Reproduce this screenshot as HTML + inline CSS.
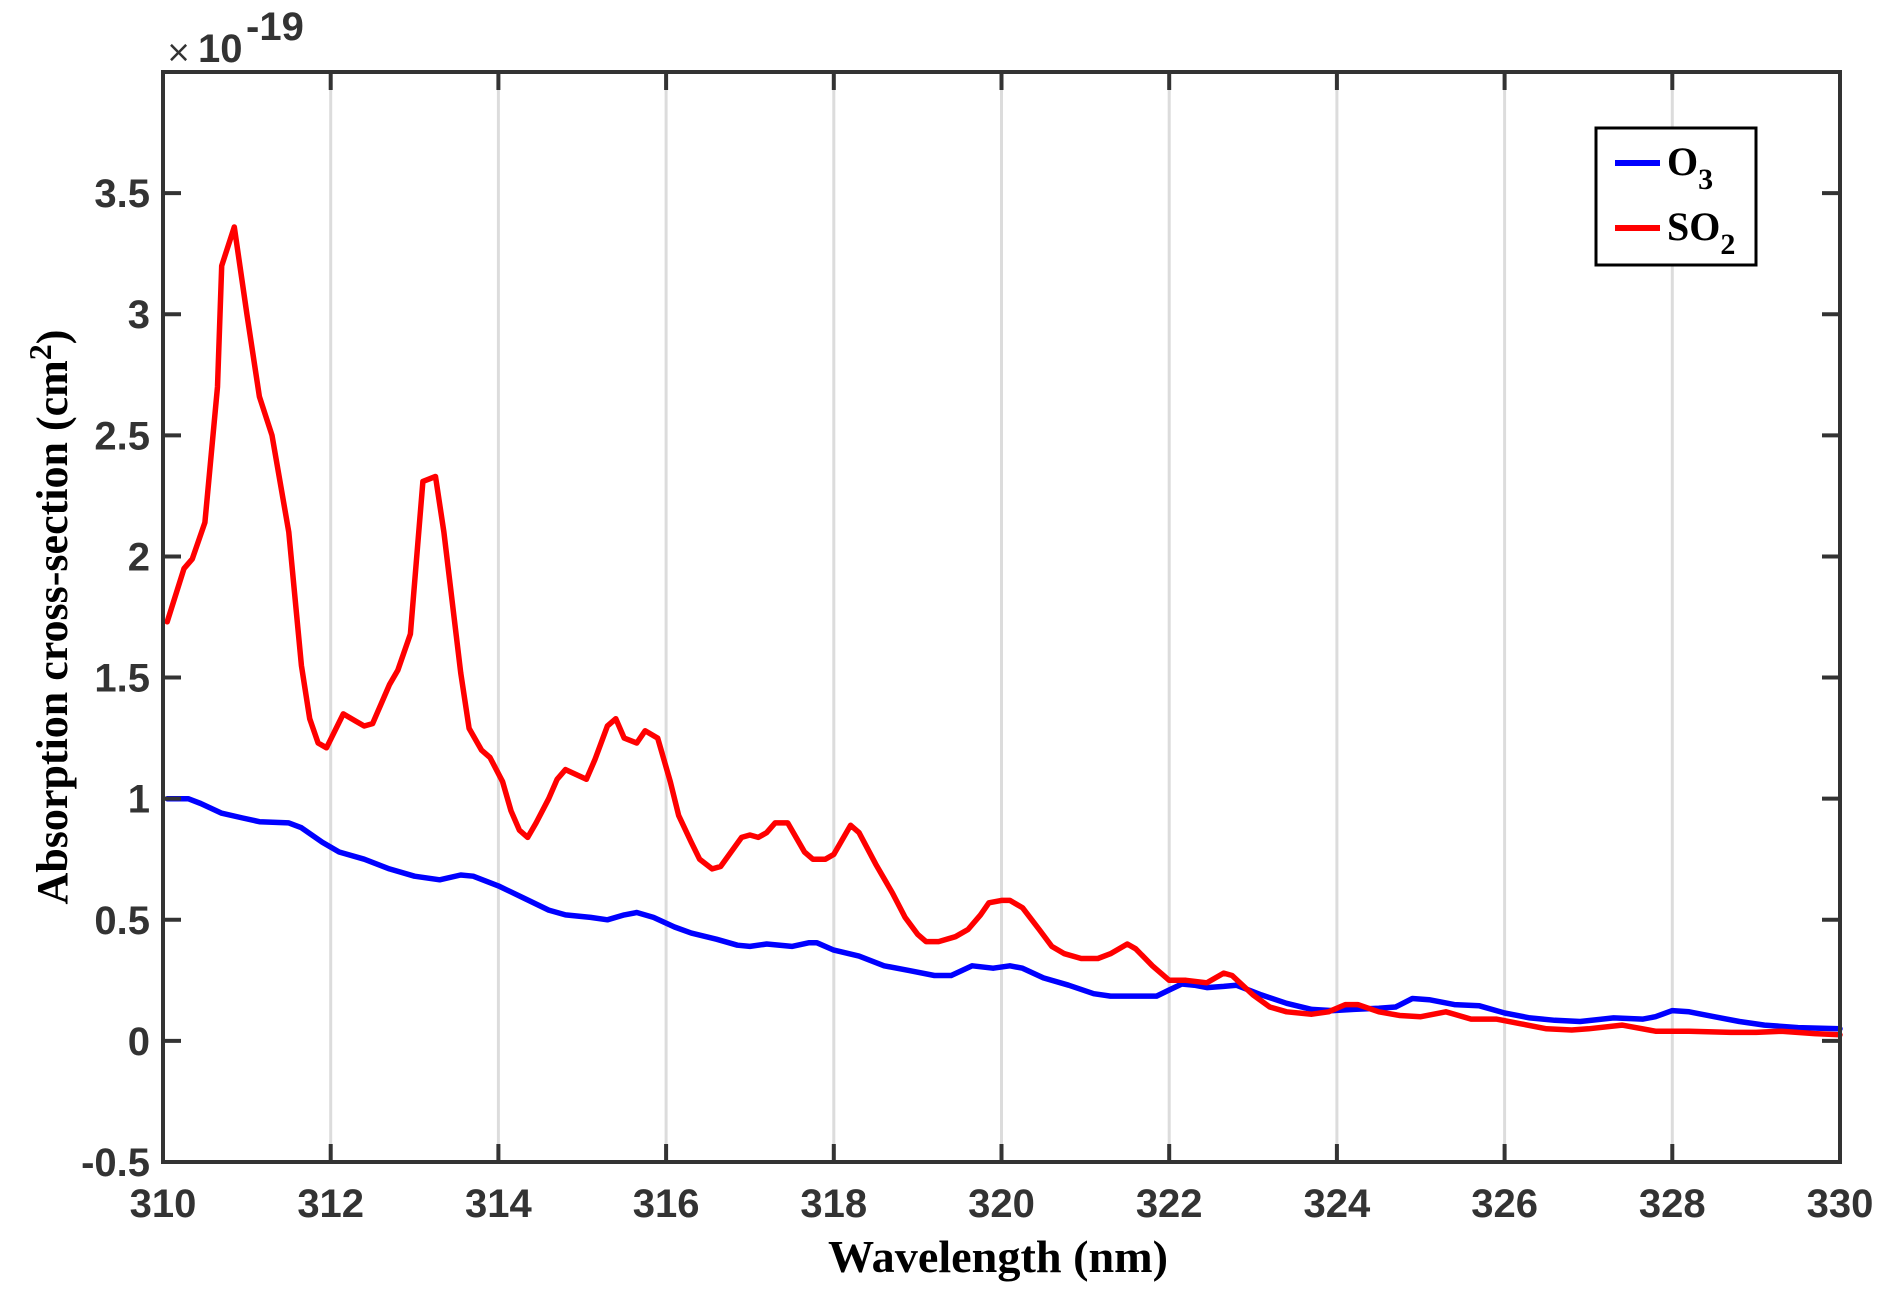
<!DOCTYPE html>
<html><head><meta charset="utf-8"><style>
html,body{margin:0;padding:0;background:#fff;}
svg{display:block;}
.tick{font-family:"Liberation Sans",Arial,sans-serif;font-weight:bold;font-size:40px;fill:#333;}
.lab{font-family:"Liberation Serif","Times New Roman",serif;font-weight:bold;fill:#000;}
</style></head><body>
<svg id="chart" width="1892" height="1300" viewBox="0 0 1892 1300" xmlns="http://www.w3.org/2000/svg">
<rect width="1892" height="1300" fill="#fff"/>
<g id="grid"></g>
<g id="series"></g>
<g id="axes"></g>
<text class="lab" x="998" y="1272" font-size="46" text-anchor="middle" textLength="340" lengthAdjust="spacingAndGlyphs">Wavelength (nm)</text>
<text class="lab" transform="translate(67,617) rotate(-90)" font-size="44" text-anchor="middle">Absorption cross-section (cm<tspan dy="-16" font-size="32">2</tspan><tspan dy="16">)</tspan></text>
<g>
<text x="166" y="62" font-family="'DejaVu Sans',sans-serif" font-size="30" fill="#333">×</text>
<text class="tick" x="198" y="62">10</text>
<text class="tick" x="246" y="40" font-size="28">-19</text>
</g>
<g>
<rect x="1596" y="128" width="160" height="137" fill="#fff" stroke="#000" stroke-width="3"/>
<line x1="1615" y1="163" x2="1660" y2="163" stroke="#0000ff" stroke-width="6"/>
<text class="lab" x="1667" y="175" font-size="40">O<tspan dy="14" font-size="30">3</tspan></text>
<line x1="1615" y1="228" x2="1660" y2="228" stroke="#ff0000" stroke-width="6"/>
<text class="lab" x="1667" y="240" font-size="40">SO<tspan dy="14" font-size="30">2</tspan></text>
</g>
</svg>
<script>
const xTicks = [310,312,314,316,318,320,322,324,326,328,330];
const yTicks = [-0.5,0,0.5,1,1.5,2,2.5,3,3.5];
const yTickLabels = ["-0.5","0","0.5","1","1.5","2","2.5","3","3.5"];
const o3X = [310.05,310.3,310.45,310.7,310.95,311.15,311.5,311.65,311.9,312.1,312.4,312.7,313,313.3,313.55,313.7,314,314.3,314.6,314.8,315.1,315.3,315.5,315.65,315.85,316.1,316.3,316.6,316.85,317,317.2,317.5,317.7,317.8,318,318.3,318.6,318.9,319.2,319.4,319.65,319.9,320.1,320.25,320.5,320.8,321.1,321.3,321.6,321.85,322,322.15,322.3,322.45,322.65,322.8,323.1,323.4,323.7,323.95,324.2,324.5,324.7,324.9,325.1,325.4,325.7,326,326.3,326.6,326.9,327.3,327.65,327.8,328,328.2,328.5,328.8,329.1,329.5,330];
const o3Y = [1.0,1.0,0.98,0.94,0.92,0.905,0.9,0.88,0.82,0.78,0.75,0.71,0.68,0.665,0.685,0.68,0.64,0.59,0.54,0.52,0.51,0.5,0.52,0.53,0.51,0.47,0.445,0.42,0.395,0.39,0.40,0.39,0.405,0.405,0.375,0.35,0.31,0.29,0.27,0.27,0.31,0.30,0.31,0.30,0.26,0.23,0.195,0.185,0.185,0.185,0.21,0.235,0.23,0.22,0.225,0.23,0.19,0.155,0.13,0.125,0.13,0.135,0.14,0.175,0.17,0.15,0.145,0.115,0.095,0.085,0.08,0.095,0.09,0.10,0.125,0.12,0.10,0.08,0.065,0.055,0.05];
const so2X = [310.05,310.25,310.35,310.5,310.65,310.7,310.85,311.0,311.15,311.3,311.5,311.65,311.75,311.85,311.95,312.15,312.3,312.4,312.5,312.7,312.8,312.95,313.1,313.25,313.35,313.55,313.65,313.8,313.9,314.05,314.15,314.25,314.35,314.45,314.6,314.7,314.8,315.05,315.15,315.3,315.4,315.5,315.65,315.75,315.9,316.05,316.15,316.3,316.4,316.55,316.65,316.9,317.0,317.1,317.2,317.3,317.45,317.65,317.75,317.9,318.0,318.2,318.3,318.5,318.7,318.85,319.0,319.1,319.25,319.45,319.6,319.75,319.85,320.0,320.1,320.25,320.45,320.6,320.75,320.95,321.15,321.3,321.5,321.6,321.8,322.0,322.2,322.45,322.65,322.75,323.0,323.2,323.4,323.7,323.9,324.1,324.25,324.5,324.75,325.0,325.3,325.6,325.9,326.2,326.5,326.8,327.0,327.4,327.8,328.2,328.7,329.0,329.3,329.7,330.0];
const so2Y = [1.73,1.95,1.99,2.14,2.7,3.2,3.36,3.0,2.66,2.5,2.1,1.55,1.33,1.23,1.21,1.35,1.32,1.30,1.31,1.47,1.53,1.68,2.31,2.33,2.1,1.52,1.29,1.2,1.17,1.07,0.95,0.87,0.84,0.9,1.0,1.08,1.12,1.08,1.16,1.30,1.33,1.25,1.23,1.28,1.25,1.07,0.93,0.82,0.75,0.71,0.72,0.84,0.85,0.84,0.86,0.90,0.90,0.78,0.75,0.75,0.77,0.89,0.86,0.73,0.61,0.51,0.44,0.41,0.41,0.43,0.46,0.52,0.57,0.58,0.58,0.55,0.46,0.39,0.36,0.34,0.34,0.36,0.40,0.38,0.31,0.25,0.25,0.24,0.28,0.27,0.19,0.14,0.12,0.11,0.12,0.15,0.15,0.12,0.105,0.10,0.12,0.09,0.09,0.07,0.05,0.045,0.05,0.065,0.04,0.04,0.035,0.035,0.04,0.03,0.025];

const L=163,R=1840,T=72,B=1162;
const xMin=310,xMax=330,yMin=-0.5,yMax=4.0;
function sx(v){return L+(v-xMin)/(xMax-xMin)*(R-L);}
function sy(v){return B-(v-yMin)/(yMax-yMin)*(B-T);}
const NS="http://www.w3.org/2000/svg";
function mk(tag,attrs,parent){const e=document.createElementNS(NS,tag);for(const k in attrs)e.setAttribute(k,attrs[k]);parent.appendChild(e);return e;}
const grid=document.getElementById('grid'),axes=document.getElementById('axes'),series=document.getElementById('series');

xTicks.forEach(function(t,i){
  const x=sx(t);
  if(i>0&&i<xTicks.length-1){
    const g=mk('line',{x1:x,y1:T,x2:x,y2:B,stroke:'#dcdcdc','stroke-width':3},grid);
    
    
  }
  const tk=mk('path',{d:'M'+x+' '+B+'V'+(B-18)+'M'+x+' '+T+'V'+(T+18),stroke:'#333','stroke-width':4},axes);
  
  
  const tx=mk('text',{x:x,y:1217,'text-anchor':'middle',class:'tick'},axes);
  tx.textContent=String(t);
  
  
});
yTicks.forEach(function(t,i){
  const y=sy(t);
  const tk=mk('path',{d:'M'+L+' '+y+'H'+(L+18)+'M'+R+' '+y+'H'+(R-18),stroke:'#333','stroke-width':4},axes);
  
  
  const tx=mk('text',{x:150,y:y+14,'text-anchor':'end',class:'tick'},axes);
  tx.textContent=yTickLabels[i];
  
  
});
const frame=mk('rect',{x:L,y:T,width:R-L,height:B-T,fill:'none',stroke:'#333','stroke-width':4},axes);



function line(xs,ys,color,name){
  const d=xs.map(function(x,i){return (i?'L':'M')+sx(x).toFixed(1)+' '+sy(ys[i]).toFixed(1);}).join('');
  const p=mk('path',{d:d,fill:'none',stroke:color,'stroke-width':5.5,'stroke-linejoin':'round','stroke-linecap':'round'},series);
  
  
}
line(o3X,o3Y,'#0000ff','o3-line');
line(so2X,so2Y,'#ff0000','so2-line');
</script>
</body></html>
